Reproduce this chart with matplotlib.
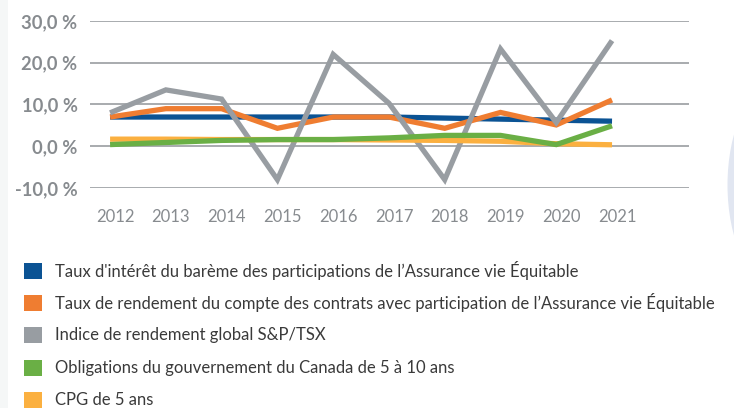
import numpy as np
import matplotlib
matplotlib.use('Agg')
import matplotlib.pyplot as plt
from matplotlib.patches import Rectangle, Ellipse
import matplotlib.transforms as mtrans

plt.rcParams['font.family'] = ['Lato', 'DejaVu Sans']

years = [2012, 2013, 2014, 2015, 2016, 2017, 2018, 2019, 2020, 2021]
bareme = [7.0, 7.0, 7.0, 7.0, 7.0, 7.0, 6.75, 6.5, 6.25, 6.0]
rendement_compte = [7.0, 9.0, 9.0, 4.3, 7.0, 7.0, 4.3, 8.1, 5.1, 11.1]
sp_tsx = [8.0, 13.5, 11.3, -8.0, 22.0, 10.3, -8.0, 23.3, 5.7, 25.3]
obligations = [0.4, 0.9, 1.4, 1.6, 1.6, 2.0, 2.6, 2.6, 0.4, 4.9]
cpg = [1.7, 1.7, 1.6, 1.6, 1.6, 1.5, 1.4, 1.2, 0.6, 0.35]

labels = [
    "Taux d'intérêt du barème des participations de l\u2019Assurance vie Équitable",
    "Taux de rendement du compte des contrats avec participation de l\u2019Assurance vie Équitable",
    "Indice de rendement global S&P/TSX",
    "Obligations du gouvernement du Canada de 5 à 10 ans",
    "CPG de 5 ans",
]
colors = ['#0b5394', '#ef7d31', '#989da2', '#6aaf45', '#fbb040']
yticks = [-10, 0, 10, 20, 30]
ytick_labels = ['-10,0 %', '0,0 %', '10,0 %', '20,0 %', '30,0 %']

W, H = 734, 408
fig = plt.figure(figsize=(W / 100, H / 100), dpi=100)

# decorations: light strip on the left, pale arc on the right
fig.add_artist(Rectangle((0, 0), 8 / W, 1, transform=fig.transFigure,
                         color='#f5f7f7', lw=0, zorder=0))
fig.add_artist(Ellipse((775 / W, 1 - 185 / H), 95 / W, 200 / H,
                       transform=fig.transFigure, color='#e1e6f1', lw=0, zorder=0))

ax = fig.add_axes([90 / W, 1 - 188 / H, (689 - 90) / W, (188 - 21) / H])
ax.set_facecolor('none')

series = [bareme, rendement_compte, sp_tsx, cpg, obligations]
series_colors = [colors[0], colors[1], colors[2], colors[4], colors[3]]
for vals, c in zip(series, series_colors):
    ax.plot(years, vals, color=c, lw=3.8, solid_capstyle='butt',
            solid_joinstyle='miter')

ax.set_xlim(2011.64, 2022.38)
ax.set_ylim(-10, 30)
ax.set_yticks(yticks)
ax.set_yticklabels(ytick_labels, fontsize=13.2, fontweight='bold', color='#878b8f')
ax.set_xticks(years)
ax.set_xticklabels([str(y) for y in years], fontsize=12, color='#878b8f')
ax.tick_params(length=0)
ax.tick_params(axis='y', pad=9)
ax.tick_params(axis='x', pad=15)
offset = mtrans.ScaledTranslation(5 / 100, 0, fig.dpi_scale_trans)
for lab in ax.get_xticklabels():
    lab.set_transform(lab.get_transform() + offset)
ax.grid(axis='y', color='#a8abae', lw=1.4)
ax.set_axisbelow(True)
for s in ax.spines.values():
    s.set_visible(False)

# legend drawn below the plot
row_y = [271, 303, 335, 368, 400]
for lab, c, ry in zip(labels, colors, row_y):
    fig.add_artist(Rectangle((24 / W, 1 - (ry + 8) / H), 18 / W, 16 / H,
                             transform=fig.transFigure, color=c, lw=0))
    fig.text(55 / W, 1 - ry / H, lab, fontsize=12, color='#3a3a3a',
             va='center', ha='left')

fig.savefig('out.png', dpi=100)
